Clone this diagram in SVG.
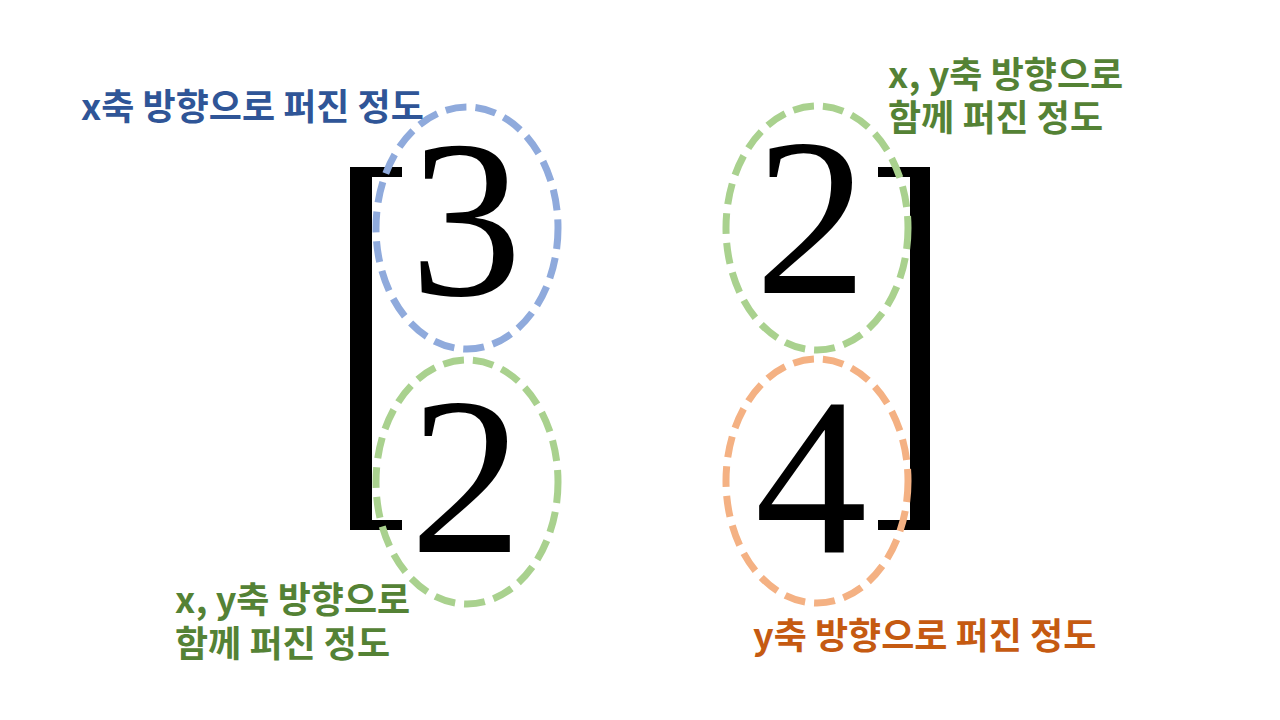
<svg xmlns="http://www.w3.org/2000/svg" width="1280" height="720" viewBox="0 0 1280 720">
<style>
.num{font-family:"Liberation Serif","Times New Roman",serif;font-size:225px;fill:#000;text-anchor:middle}
.lbl{font-family:"Noto Sans CJK KR","Noto Sans",sans-serif;font-weight:bold;font-size:36px}
.blue{fill:#2F5597}.green{fill:#548235}.orange{fill:#C55A11}
.ell{fill:none;stroke-width:7;stroke-dasharray:21 9}
</style>
<rect width="1280" height="720" fill="#fff"/>
<g id="brackets" fill="#000">
<path d="M350 167H402V177H372V520H402V530H350Z"/>
<path d="M930 167H878V177H910V520H878V530H930Z"/>
</g>
<g id="n11"><text class="num" x="466" y="295">3</text></g>
<g id="n21"><text class="num" x="466" y="552">2</text></g>
<g id="n12"><text class="num" x="811" y="293">2</text></g>
<g id="n22"><text class="num" x="811" y="552">4</text></g>
<g id="e11"><ellipse class="ell" cx="467" cy="228" rx="91" ry="121" stroke="#8FAADC"/></g>
<g id="e21"><ellipse class="ell" cx="467" cy="482" rx="91" ry="122" stroke="#A9D18E"/></g>
<g id="e12"><ellipse class="ell" cx="817" cy="228" rx="91" ry="122" stroke="#A9D18E"/></g>
<g id="e22"><ellipse class="ell" cx="817" cy="481" rx="91" ry="122" stroke="#F4B183"/></g>
<g id="l11"><text class="lbl blue" x="81" y="120">x축 방향으로 퍼진 정도</text></g>
<g id="l12"><text class="lbl green" x="888" y="88">x, y축 방향으로<tspan x="888" y="131">함께 퍼진 정도</tspan></text></g>
<g id="l21"><text class="lbl green" x="175" y="613">x, y축 방향으로<tspan x="175" y="657">함께 퍼진 정도</tspan></text></g>
<g id="l22"><text class="lbl orange" x="753" y="649">y축 방향으로 퍼진 정도</text></g>
<g id="connectors"></g>
</svg>
